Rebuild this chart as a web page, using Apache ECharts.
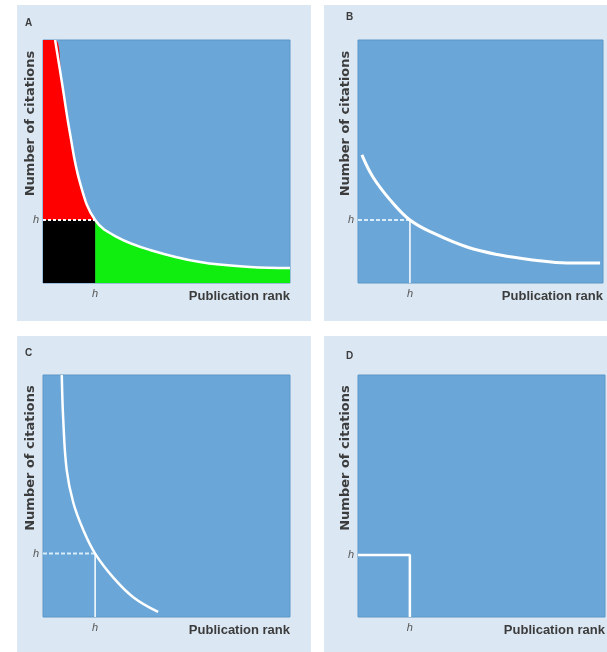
<!DOCTYPE html>
<html>
<head>
<meta charset="utf-8">
<script src="https://cdn.jsdelivr.net/npm/echarts@6/dist/echarts.min.js"></script>
<style>
html,body{margin:0;padding:0;background:#ffffff;}
#chart{width:607px;height:652px;}
</style>
</head>
<body>
<div id="chart"></div>
<script>
// ---- data (axis domain 0..100 on both axes) ----
const panelLetters = ['A', 'B', 'C', 'D'];
const xAxisTitle = 'Publication rank';
const yAxisTitle = 'Number of citations';
const hLabel = 'h';

const curveA = [[4.9,100],[7.7,82.3],[10.9,61.7],[15.0,41.2],[21.1,25.9],[30.0,18.9],[43.3,13.6],[63.6,8.6],[83.8,6.6],[100,6.2]];
const hPointA = [21.1, 25.9];

const curveB = [[1.6,52.7],[6.1,43.6],[13.1,34.2],[21.2,25.9],[30.6,20.6],[44.5,14.8],[58.0,11.5],[71.4,9.5],[85.3,8.2],[98.8,8.2]];
const hPointB = [21.2, 25.9];

const curveC = [[7.6,100],[8.2,81.4],[9.6,60.7],[12.3,47.1],[16.3,36.0],[21.1,26.2],[28.3,16.5],[36.4,8.3],[46.6,2.1]];
const hPointC = [21.1, 26.2];

const hPointD = [21.0, 25.6];

// ---- styling ----
const plotBlue = '#6aa7d8';
const panelBg = '#dbe7f3';
const textCol = '#3c3c3c';
const font = 'Liberation Sans';

const grids = [
  {left: 43, top: 40, width: 247, height: 243},
  {left: 358, top: 40, width: 245, height: 243},
  {left: 43, top: 375, width: 247, height: 242},
  {left: 358, top: 375, width: 247, height: 242}
];
const hPoints = [hPointA, hPointB, hPointC, hPointD];

function mkX(i) {
  return {
    type: 'value', gridIndex: i, min: 0, max: 100,
    splitLine: {show: false}, axisTick: {show: false},
    axisLine: {show: false},
    axisLabel: {
      customValues: [hPoints[i][0]], formatter: () => hLabel,
      color: '#555', fontStyle: 'italic', fontFamily: font, fontSize: 11, margin: 5
    },
    name: xAxisTitle, nameLocation: 'end', nameGap: 0,
    nameTextStyle: {align: 'right', verticalAlign: 'top', padding: [7, 0, 0, 0],
      color: textCol, fontFamily: font, fontSize: 13, fontWeight: 'bold'}
  };
}
function mkY(i) {
  return {
    type: 'value', gridIndex: i, min: 0, max: 100,
    splitLine: {show: false}, axisTick: {show: false},
    axisLine: {show: false},
    axisLabel: {
      customValues: [hPoints[i][1]], formatter: () => hLabel,
      color: '#555', fontStyle: 'italic', fontFamily: font, fontSize: 11, margin: 4
    },
    name: yAxisTitle, nameLocation: 'middle', nameGap: 6, nameRotate: 90,
    nameMoveOverlap: false,
    nameTextStyle: {padding: [0, 0, 0, 76], color: textCol, fontFamily: 'DejaVu Sans', fontSize: 13, fontWeight: 'bold'}
  };
}

const redArea = [[0, 100]].concat(curveA.filter(p => p[0] <= hPointA[0]));
const greenArea = curveA.filter(p => p[0] >= hPointA[0]);

function lineS(i, data, opt) {
  return Object.assign({
    type: 'line', xAxisIndex: i, yAxisIndex: i, data: data,
    symbol: 'none', silent: true, animation: false
  }, opt);
}
const sm = {smooth: 0.4};

const series = [
  // Panel A
  lineS(0, redArea, Object.assign({lineStyle: {width: 0}, areaStyle: {color: '#ff0000', opacity: 1}, z: 1}, sm)),
  lineS(0, greenArea, Object.assign({lineStyle: {width: 0}, areaStyle: {color: '#10ee10', opacity: 1}, z: 1}, sm)),
  lineS(0, [[0, hPointA[1]], [hPointA[0], hPointA[1]]], {lineStyle: {width: 0}, areaStyle: {color: '#000000', opacity: 1}, z: 2}),
  lineS(0, [[0, hPointA[1]], [hPointA[0], hPointA[1]]], {lineStyle: {color: '#ffffff', width: 2, type: [3, 2]}, z: 3}),
  lineS(0, curveA, Object.assign({lineStyle: {color: '#ffffff', width: 2.5}, z: 4}, sm)),
  // Panel B
  lineS(1, [[0, hPointB[1]], [hPointB[0], hPointB[1]]], {lineStyle: {color: '#d8ecfa', width: 2, type: [4, 2]}, z: 3}),
  lineS(1, [[hPointB[0], 0], [hPointB[0], hPointB[1]]], {lineStyle: {color: '#ffffff', width: 1.5}, z: 3}),
  lineS(1, curveB, Object.assign({lineStyle: {color: '#ffffff', width: 3}, z: 4}, sm)),
  // Panel C
  lineS(2, [[0, hPointC[1]], [hPointC[0], hPointC[1]]], {lineStyle: {color: '#d8ecfa', width: 2, type: [4, 2]}, z: 3}),
  lineS(2, [[hPointC[0], 0], [hPointC[0], hPointC[1]]], {lineStyle: {color: '#ffffff', width: 1.5}, z: 3}),
  lineS(2, curveC, Object.assign({lineStyle: {color: '#ffffff', width: 2.5}, z: 4}, sm)),
  // Panel D
  lineS(3, [[0, hPointD[1]], [hPointD[0], hPointD[1]], [hPointD[0], 0]], {lineStyle: {color: '#ffffff', width: 2.5}, z: 4})
];

const titlePos = [
  {left: 20, top: 13}, {left: 341, top: 7}, {left: 20, top: 343}, {left: 341, top: 346}
];

const chart = echarts.init(document.getElementById('chart'), null, {renderer: 'canvas'});
chart.setOption({
  backgroundColor: '#ffffff',
  animation: false,
  title: panelLetters.map((t, i) => ({
    text: t, left: titlePos[i].left, top: titlePos[i].top,
    textStyle: {fontSize: 10, fontWeight: 'bold', color: textCol, fontFamily: font}
  })),
  graphic: [
    {type: 'rect', shape: {x: 17, y: 5, width: 294, height: 316}, style: {fill: panelBg}, z: -10},
    {type: 'rect', shape: {x: 324, y: 5, width: 283, height: 316}, style: {fill: panelBg}, z: -10},
    {type: 'rect', shape: {x: 17, y: 336, width: 294, height: 316}, style: {fill: panelBg}, z: -10},
    {type: 'rect', shape: {x: 324, y: 336, width: 283, height: 316}, style: {fill: panelBg}, z: -10}
  ],
  grid: grids.map(g => Object.assign({show: true, backgroundColor: plotBlue, borderColor: '#5b96c6', borderWidth: 1}, g)),
  xAxis: [0, 1, 2, 3].map(mkX),
  yAxis: [0, 1, 2, 3].map(mkY),
  series: series
});
</script>
</body>
</html>
